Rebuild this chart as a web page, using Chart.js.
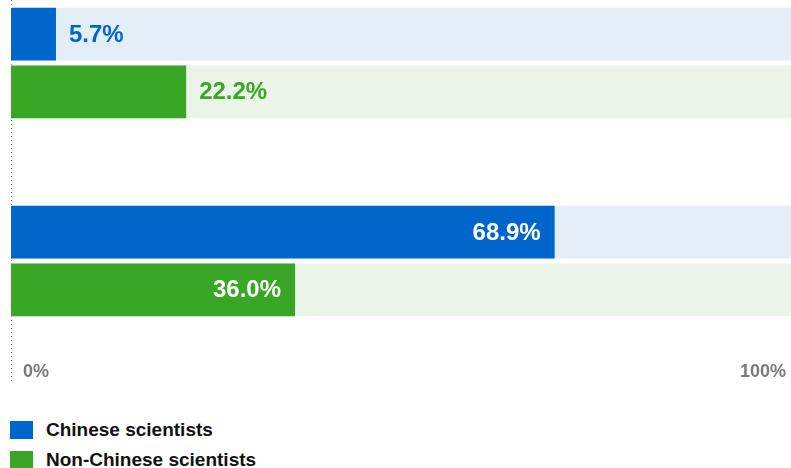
<!DOCTYPE html>
<html>
<head>
<meta charset="utf-8">
<script src="https://cdn.jsdelivr.net/npm/chart.js@4"></script>
<style>
    html, body { margin: 0; padding: 0; background: #fff; }
    #wrap { position: relative; width: 791px; height: 468px; overflow: hidden; }
    #chartBox { position: absolute; left: 0; top: -36px; width: 810px; height: 417px; }
    #legend { position: absolute; left: 10px; top: 421px; font: bold 19px "Liberation Sans", Arial, sans-serif; color: #111; }
    .row { display: flex; align-items: center; height: 18px; margin-bottom: 12px; }
    .swatch { width: 23px; height: 18px; margin-right: 13px; }
</style>
</head>
<body>
<div id="wrap">
    <div id="chartBox"><canvas id="scientistsChart"></canvas></div>
    <div id="legend"></div>
</div>
<script>
// Data
const categories = ['Group A', 'Group B'];
const seriesNames = ['Chinese scientists', 'Non-Chinese scientists'];
const chinese = [5.7, 68.9];
const nonChinese = [22.2, 36.0];
const fullScale = [100, 100];
const tickLabels = ['0%', '100%'];

const BLUE = '#0066cc';
const GREEN = '#3aa626';
const LIGHT_BLUE = '#e4eef9';
const LIGHT_GREEN = '#eaf4e7';
const FONT = '"Liberation Sans", Arial, sans-serif';

// value labels next to / inside each coloured bar
const valueLabels = {
    id: 'valueLabels',
    afterDatasetsDraw(chart) {
        const ctx = chart.ctx;
        ctx.save();
        ctx.font = 'bold 24px ' + FONT;
        ctx.textBaseline = 'middle';
        [0, 1].forEach(di => {
            const ds = chart.data.datasets[di];
            chart.getDatasetMeta(di).data.forEach((bar, i) => {
                const v = ds.data[i];
                const text = v.toFixed(1) + '%';
                if (v > 30) {
                    ctx.fillStyle = '#fff';
                    ctx.textAlign = 'right';
                    ctx.fillText(text, bar.x - 14, bar.y + 1);
                } else {
                    ctx.fillStyle = ds.backgroundColor;
                    ctx.textAlign = 'left';
                    ctx.fillText(text, bar.x + 13, bar.y + 1);
                }
            });
        });
        ctx.restore();
    }
};

// dotted zero line and the two axis labels
const axisDecor = {
    id: 'axisDecor',
    beforeDatasetsDraw(chart) {
        const ctx = chart.ctx;
        const x = chart.scales.x;
        const x0 = Math.round(x.getPixelForValue(0)) + 0.5;
        ctx.save();
        ctx.strokeStyle = '#888';
        ctx.lineWidth = 1;
        ctx.setLineDash([1, 3]);
        ctx.beginPath();
        ctx.moveTo(x0, 0);
        ctx.lineTo(x0, chart.height);
        ctx.stroke();
        ctx.restore();
    },
    afterDraw(chart) {
        const ctx = chart.ctx;
        const x = chart.scales.x;
        const y = chart.chartArea.bottom + 12;
        ctx.save();
        ctx.font = 'bold 18px ' + FONT;
        ctx.fillStyle = '#7a7a7a';
        ctx.textBaseline = 'middle';
        ctx.textAlign = 'left';
        ctx.fillText(tickLabels[0], x.getPixelForValue(0) + 12, y);
        ctx.textAlign = 'right';
        ctx.fillText(tickLabels[1], x.getPixelForValue(100) - 14, y);
        ctx.restore();
    }
};

const barOpts = { categoryPercentage: 0.583, barPercentage: 0.912, borderWidth: 0 };

const ctx = document.getElementById('scientistsChart').getContext('2d');
const scientistsChart = new Chart(ctx, {
    type: 'bar',
    data: {
        labels: categories,
        datasets: [
            { label: seriesNames[0], data: chinese, backgroundColor: BLUE, stack: 'cn', order: 0, ...barOpts },
            { label: seriesNames[1], data: nonChinese, backgroundColor: GREEN, stack: 'non', order: 0, ...barOpts },
            { label: 'bg1', data: fullScale, backgroundColor: LIGHT_BLUE, stack: 'cn', order: 1, ...barOpts },
            { label: 'bg2', data: fullScale, backgroundColor: LIGHT_GREEN, stack: 'non', order: 1, ...barOpts }
        ]
    },
    options: {
        indexAxis: 'y',
        responsive: true,
        maintainAspectRatio: false,
        animation: false,
        layout: { padding: { left: 11, right: 10, top: 0, bottom: 21 } },
        scales: {
            x: { type: 'linear', min: 0, max: 100, stacked: false, display: false },
            y: { display: false }
        },
        plugins: {
            legend: { display: false },
            tooltip: { enabled: false }
        }
    },
    plugins: [axisDecor, valueLabels]
});

// HTML legend for the two real series
const legendEl = document.getElementById('legend');
scientistsChart.data.datasets.slice(0, 2).forEach(ds => {
    const row = document.createElement('div');
    row.className = 'row';
    row.innerHTML = '<span class="swatch" style="background:' + ds.backgroundColor + '"></span>' + ds.label;
    legendEl.appendChild(row);
});
</script>
</body>
</html>
